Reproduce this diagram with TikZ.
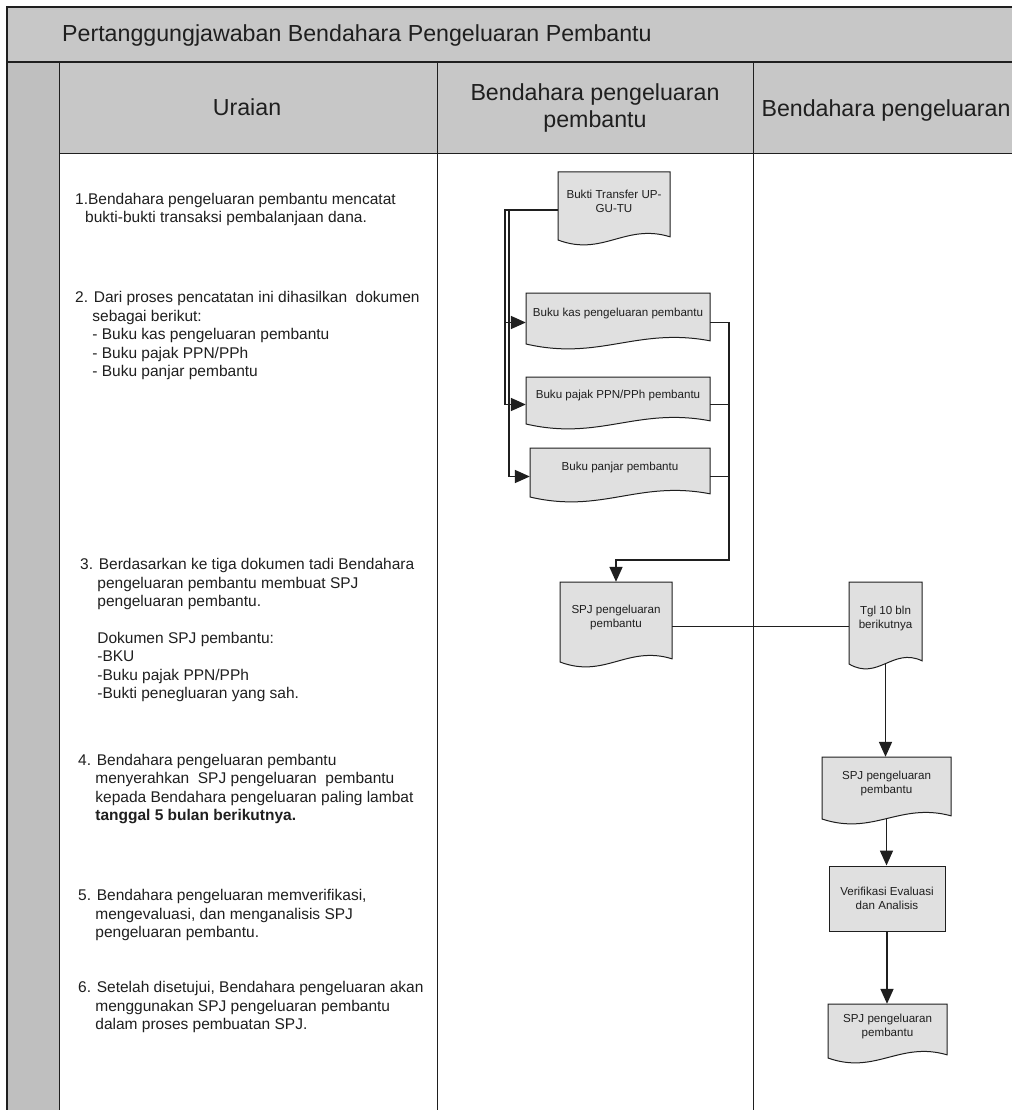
\documentclass[tikz,border=0pt]{standalone}
\usepackage{fontspec}
\setmainfont{Liberation Sans}
\usetikzlibrary{arrows.meta,calc}

\definecolor{bandgray}{gray}{0.78}
\definecolor{stripgray}{gray}{0.75}
\definecolor{boxfill}{gray}{0.88}
\definecolor{ink}{gray}{0.12}

\tikzset{
  x=1pt, y=-1pt,
  frame/.style={line width=1.4pt, draw=ink},
  divider/.style={line width=1pt, draw=ink},
  conn/.style={line width=1.7pt, draw=ink},
  arr/.style={conn, -{Triangle[length=15pt,width=13pt]}},
  thinlink/.style={line width=0.9pt, draw=ink},
  docoutline/.style={fill=boxfill, draw=ink, line width=1pt},
  boxtext/.style={font=\fontsize{11.6}{14}\selectfont, align=center, text=ink},
  docbox/.style={boxtext, draw=none, inner sep=1pt},
  procbox/.style={boxtext, draw=ink, line width=1pt, fill=boxfill, inner sep=1pt},
  headtext/.style={font=\fontsize{23.2}{27}\selectfont, align=center, text=ink, inner sep=0pt},
  itemtext/.style={anchor=north west, align=left, inner sep=0pt, text=ink,
                   font=\fontsize{15.5}{18.4}\selectfont},
}

% document symbol: name, left x, right x, top y, bottom y (left end of the wave), text
\newcommand\docnode[6]{%
  \pgfmathsetmacro\docWd{#3-#2}%
  \pgfmathsetmacro\docCxA{#3-0.4*\docWd}%
  \pgfmathsetmacro\docCxB{#2+0.4*\docWd}%
  \pgfmathsetmacro\docYa{#5-3.2}%
  \pgfmathsetmacro\docYc{#5-17}%
  \pgfmathsetmacro\docYd{#5+17}%
  \pgfmathsetmacro\docCx{(#2+#3)/2}%
  \pgfmathsetmacro\docCy{(#4+#5-10)/2}%
  \pgfmathsetmacro\docHt{#5-10-#4}%
  \path[docoutline] (#2,#4) -- (#3,#4) -- (#3,\docYa)
     .. controls (\docCxA,\docYc) and (\docCxB,\docYd) .. (#2,#5) -- cycle;
  \node[docbox, minimum width=\docWd pt, minimum height=\docHt pt] (#1) at (\docCx,\docCy) {#6};
  \coordinate (#1-w) at ([yshift=-9pt]#1.west);
  \coordinate (#1-e) at ([yshift=-9pt]#1.east);
  \coordinate (#1-b) at (\docCx,#5);
}

\begin{document}
\begin{tikzpicture}
\useasboundingbox (0,0) rectangle (1012,1110);
\fill[white] (0,0) rectangle (1012,1110);

% shaded bands: title bar, left strip, column headers
\fill[bandgray] (7,7) rectangle (1012,62);
\fill[stripgray] (7,62) rectangle (59,1110);
\fill[bandgray] (59,62) rectangle (1012,154);

% frame and lane dividers
\draw[frame] (1012,7) -- (7,7) -- (7,1110);
\draw[frame] (7,62) -- (1012,62);
\draw[divider] (59,62) -- (59,1110);
\draw[divider] (59,154) -- (1012,154);
\draw[divider] (437,62) -- (437,1110);
\draw[divider] (753,62) -- (753,1110);

% titles
\node[headtext, anchor=base west] (title) at (62,42) {Pertanggungjawaban Bendahara Pengeluaran Pembantu};
\node[headtext, anchor=base] (hUraian) at (247,116) {Uraian};
\node[headtext, anchor=base] (hBPP) at (595,128) {Bendahara pengeluaran\\pembantu};
\node[headtext, anchor=base] (hBP) at (886,117) {Bendahara pengeluaran};

% description column
\node[itemtext] (u1) at (75,192.9) {1.Bendahara pengeluaran pembantu mencatat\\\hspace*{10pt}bukti-bukti transaksi pembalanjaan dana.};
\node[itemtext] (u2) at (75,291.5) {2. Dari proses pencatatan ini dihasilkan\ \ dokumen\\\hspace*{17.2pt}sebagai berikut:\\\hspace*{17.2pt}- Buku kas pengeluaran pembantu\\\hspace*{17.2pt}- Buku pajak PPN/PPh\\\hspace*{17.2pt}- Buku panjar pembantu};
\node[itemtext] (u3) at (80,558.4) {3. Berdasarkan ke tiga dokumen tadi Bendahara\\\hspace*{17.2pt}pengeluaran pembantu membuat SPJ\\\hspace*{17.2pt}pengeluaran pembantu.\\[18.4pt]\hspace*{17.2pt}Dokumen SPJ pembantu:\\\hspace*{17.2pt}-BKU\\\hspace*{17.2pt}-Buku pajak PPN/PPh\\\hspace*{17.2pt}-Bukti penegluaran yang sah.};
\node[itemtext] (u4) at (78,754) {4. Bendahara pengeluaran pembantu\\\hspace*{17.2pt}menyerahkan\ \ SPJ pengeluaran\ \ pembantu\\\hspace*{17.2pt}kepada Bendahara pengeluaran paling lambat\\\hspace*{17.2pt}\textbf{tanggal 5 bulan berikutnya.}};
\node[itemtext] (u5) at (78,889.4) {5. Bendahara pengeluaran memverifikasi,\\\hspace*{17.2pt}mengevaluasi, dan menganalisis SPJ\\\hspace*{17.2pt}pengeluaran pembantu.};
\node[itemtext] (u6) at (78,981.4) {6. Setelah disetujui, Bendahara pengeluaran akan\\\hspace*{17.2pt}menggunakan SPJ pengeluaran pembantu\\\hspace*{17.2pt}dalam proses pembuatan SPJ.};

% documents of the sub-treasurer
\docnode{bukti}{558}{670}{172}{240}{Bukti Transfer UP-\\GU-TU}
\docnode{kas}{526}{710}{293}{344}{Buku kas pengeluaran pembantu}
\docnode{pajak}{526}{710}{377}{424}{Buku pajak PPN/PPh pembantu}
\docnode{panjar}{530}{710}{448}{497}{Buku panjar pembantu}
\docnode{spj1}{560}{672}{582}{662}{SPJ pengeluaran\\pembantu}

% documents of the treasurer
\docnode{tgl}{849}{922}{582}{664}{Tgl 10 bln\\berikutnya}
\docnode{spj2}{822}{951}{757}{819}{SPJ pengeluaran\\pembantu}
\node[procbox, minimum width=116pt, minimum height=65pt] (verif) at (887,898.5) {Verifikasi Evaluasi\\dan Analisis};
\docnode{spj3}{828}{947}{1004}{1058}{SPJ pengeluaran\\pembantu}

% routing points
\coordinate (laneA) at (505,0);
\coordinate (laneB) at (509,0);
\coordinate (mergeR) at (729,560);

% connectors
\draw[arr] (bukti-w) -| (laneA |- kas-w) -- (kas-w);
\draw[arr] (bukti-w) -| (laneA |- pajak-w) -- (pajak-w);
\draw[arr] (bukti-w) -| (laneB |- panjar-w) -- (panjar-w);

\draw[conn] (kas-e) -| (mergeR);
\draw[conn] (pajak-e) -| (mergeR);
\draw[arr] (panjar-e) -| (mergeR) -| (spj1.north);

\draw[thinlink] (spj1-e) -- (spj1-e -| tgl-w);

\draw[arr] (tgl-b) -- (tgl-b |- spj2.north);
\draw[arr] (spj2-b) -- (spj2-b |- verif.north);
\draw[arr] (verif.south) -- (verif.south |- spj3.north);
\end{tikzpicture}
\end{document}
